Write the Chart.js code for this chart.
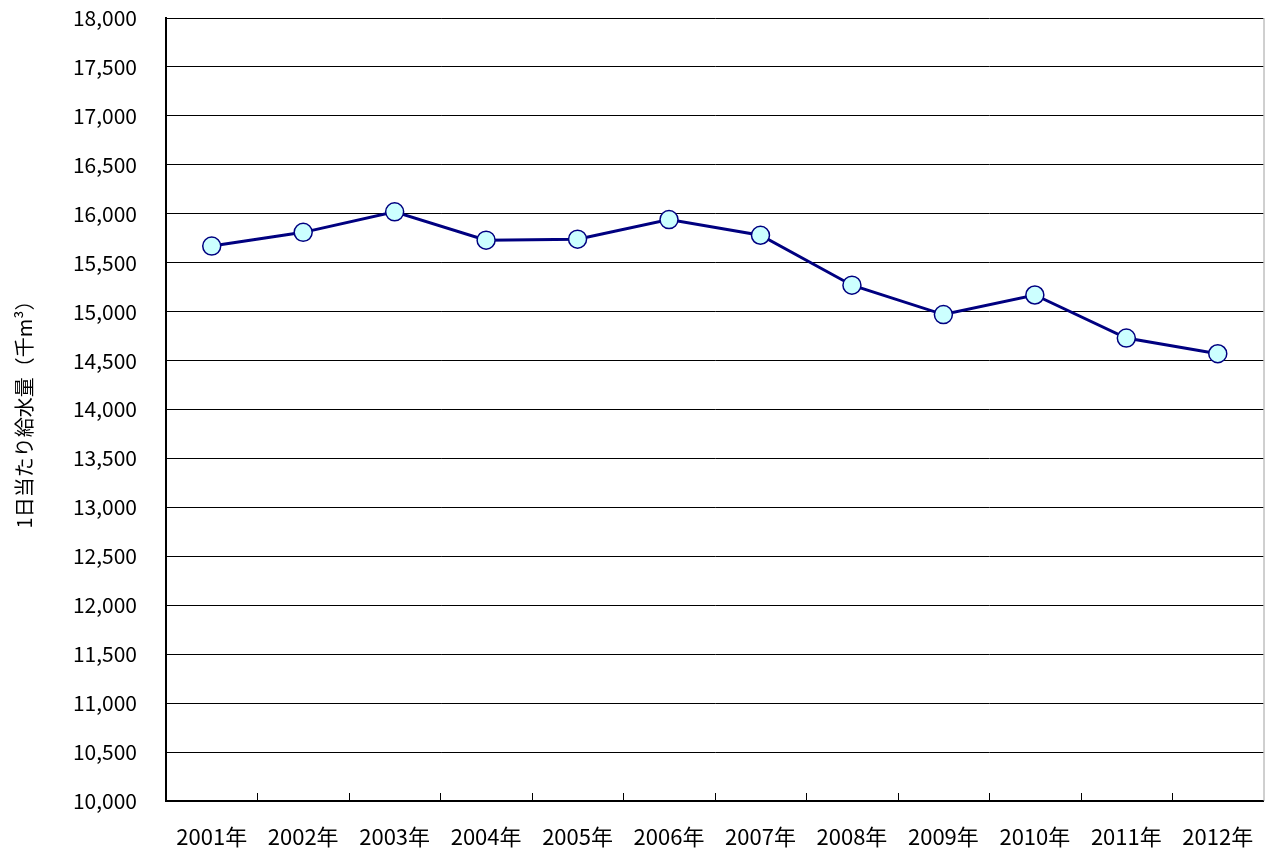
<!DOCTYPE html>
<html><head><meta charset="utf-8">
<script src="https://cdn.jsdelivr.net/npm/chart.js@4/dist/chart.umd.min.js"></script>
<style>html,body{margin:0;padding:0;background:#fff}#wrap{width:1274px;height:852px}</style>
</head><body><div id="wrap"><canvas id="c"></canvas></div>
<script>
const categories = ["2001年","2002年","2003年","2004年","2005年","2006年","2007年","2008年","2009年","2010年","2011年","2012年"];
const supply = [15670,15810,16020,15730,15740,15940,15780,15270,14970,15170,14730,14570];
const yMin = 10000, yMax = 18000, yStep = 500;
const yTitle = "1日当たり給水量（千m³）";
const FONT = "'Noto Sans CJK JP','Noto Sans',sans-serif";

const extras = {
  id: 'extras',
  afterDraw(chart) {
    const {ctx, chartArea: a} = chart;
    ctx.save();
    ctx.strokeStyle = '#a0a0a0'; ctx.lineWidth = 1;
    ctx.beginPath(); ctx.moveTo(a.right + 0.5, a.top); ctx.lineTo(a.right + 0.5, a.bottom); ctx.stroke();
    ctx.strokeStyle = '#000'; ctx.lineWidth = 1;
    const n = categories.length;
    const w = (a.right - a.left) / n;
    for (let i = 1; i < n; i++) {
      const px = Math.round(a.left + w * i) + 0.5;
      ctx.beginPath(); ctx.moveTo(px, a.bottom - 8); ctx.lineTo(px, a.bottom); ctx.stroke();
    }
    ctx.restore();
  }
};

new Chart(document.getElementById('c'), {
  type: 'line',
  data: {
    labels: categories,
    datasets: [{
      data: supply,
      borderColor: '#000080',
      borderWidth: 3,
      pointRadius: 9,
      pointHoverRadius: 9,
      pointBackgroundColor: '#ccffff',
      pointBorderColor: '#000080',
      pointBorderWidth: 1.5,
      tension: 0
    }]
  },
  options: {
    responsive: true,
    maintainAspectRatio: false,
    animation: false,
    layout: { padding: { top: 18, right: 6, bottom: 0, left: 0 } },
    plugins: { legend: { display: false }, tooltip: { enabled: false } },
    scales: {
      x: {
        offset: true,
        grid: { display: false, drawTicks: false },
        border: { display: true, color: '#000', width: 2 },
        ticks: { color: '#000', font: { family: FONT, size: 22 }, padding: 22, maxRotation: 0, autoSkip: false },
        afterFit(s) { s.height = 51; s.paddingLeft = 0; s.paddingRight = 0; }
      },
      y: {
        min: yMin, max: yMax,
        grid: { color: '#000', lineWidth: 1, drawTicks: false },
        border: { display: true, color: '#000', width: 2 },
        ticks: {
          stepSize: yStep, color: '#000', padding: 29,
          font: { family: FONT, size: 21 },
          callback: v => v.toLocaleString('en-US')
        },
        title: { display: true, text: yTitle, color: '#000', font: { family: FONT, size: 20 }, padding: { top: 12, bottom: 0 } },
        afterFit(s) { s.width = 166; s.paddingTop = 0; s.paddingBottom = 0; }
      }
    }
  },
  plugins: [extras]
});
</script></body></html>
